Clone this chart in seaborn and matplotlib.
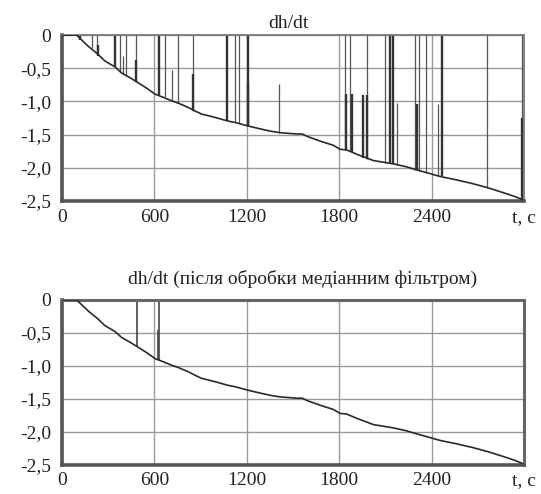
import numpy as np
import pandas as pd
import seaborn as sns
import matplotlib
matplotlib.use("Agg")
import matplotlib.pyplot as plt
from matplotlib.ticker import FixedLocator, MultipleLocator

# ---------------- data ----------------
curve_t = [0, 95, 117, 171, 229, 279, 344, 387, 440, 496, 550, 604, 660, 712, 760,
           820, 870, 907, 960, 1010, 1069, 1130, 1210, 1300, 1360, 1416, 1524, 1560,
           1596, 1680, 1762, 1805, 1848, 1920, 2022, 2100, 2151, 2230, 2303, 2380,
           2455, 2560, 2671, 2780, 2887, 2950, 2990]
curve_v = [0, 0, -0.05, -0.17, -0.28, -0.39, -0.48, -0.57, -0.64, -0.72, -0.80, -0.89,
           -0.94, -0.99, -1.03, -1.09, -1.15, -1.19, -1.22, -1.25, -1.29, -1.32, -1.37,
           -1.42, -1.45, -1.47, -1.49, -1.49, -1.53, -1.60, -1.66, -1.72, -1.73, -1.80,
           -1.89, -1.92, -1.94, -1.98, -2.03, -2.08, -2.13, -2.18, -2.24, -2.31, -2.39,
           -2.44, -2.48]

# raw signal: outliers (thin spikes)
thin_t = [197, 229, 377, 398, 413, 478, 669, 712, 751, 853, 1123, 1151, 1409, 1838,
          1870, 1983, 2097, 2173, 2292, 2318, 2364, 2444, 2758, 2989]
thin_top = [0, 0, 0, -0.32, 0, 0, 0, -0.52, 0, 0, 0, 0, -0.74, 0,
            0, 0, 0, -1.02, 0, 0, 0, -1.04, 0, 0]
thin_bot = [-0.20, -0.28, -0.55, -0.59, -0.61, -0.71, -0.94, -0.99, -1.03, -1.15, -1.31,
            -1.33, -1.47, -1.73, -1.75, -1.86, -1.92, -1.95, -2.03, -2.04, -2.07,
            -2.12, -2.30, -2.48]
# raw signal: outliers (heavy spikes)
thick_t = [120, 234, 344, 478, 632, 853, 1069, 1210, 1210, 1842, 1881, 1956, 1979,
           2130, 2152, 2303, 2465, 2989]
thick_top = [0, -0.15, 0, -0.37, 0, -0.59, 0, 0, -0.72, -0.89, -0.89, -0.91, -0.91,
             0, 0, -1.04, 0, -1.25]
thick_bot = [-0.07, -0.31, -0.48, -0.71, -0.91, -1.15, -1.29, -1.37, -1.37, -1.73,
             -1.76, -1.85, -1.86, -1.93, -1.94, -2.03, -2.13, -2.48]

# filtered signal: remaining outliers
filt_t = [485, 625, 632]
filt_top = [0, -0.45, 0]
filt_bot = [-0.72, -0.90, -0.91]

x_ticks = [0, 600, 1200, 1800, 2400, 3000]
x_labels = ["0", "600", "1200", "1800", "2400", "t, c"]
y_ticks = [0, -0.5, -1.0, -1.5, -2.0, -2.5]
y_labels = ["0", "-0,5", "-1,0", "-1,5", "-2,0", "-2,5"]
title_top = "dh/dt"
title_bottom = "dh/dt (після обробки медіанним фільтром)"

# ---------------- plotting ----------------
sns.set_style("white")
plt.rcParams["font.family"] = ["Liberation Serif", "DejaVu Serif"]

fig = plt.figure(figsize=(5.41, 4.94), dpi=100)
ax1 = fig.add_axes([0.1146, 0.593, 0.854, 0.336])
ax2 = fig.add_axes([0.1146, 0.059, 0.854, 0.334])

df = pd.DataFrame({"t": curve_t, "v": curve_v})

def style_axes(ax, title, frame_heavy, title_pad, title_x):
    ax.set_xlim(0, 3000)
    ax.set_ylim(-2.5, 0)
    ax.xaxis.set_major_locator(FixedLocator(x_ticks))
    ax.set_xticklabels(x_labels)
    ax.yaxis.set_major_locator(FixedLocator(y_ticks))
    ax.set_yticklabels(y_labels)
    ax.xaxis.set_minor_locator(MultipleLocator(300))
    ax.yaxis.set_minor_locator(MultipleLocator(0.25))
    ax.grid(True, which="major", color="#9a9a9a", linewidth=1.0)
    ax.set_axisbelow(True)
    ax.tick_params(axis="both", which="major", direction="out", length=4,
                   width=1.2, color="#555555", labelsize=14,
                   labelcolor="#222222")
    ax.tick_params(axis="x", which="major", pad=1.5)
    ax.tick_params(axis="y", which="major", pad=4)
    ax.tick_params(axis="both", which="minor", direction="in", length=3,
                   width=1.0, color="#666666")
    ax.set_xlabel("")
    ax.set_ylabel("")
    ax.set_title(title, fontsize=14, color="#222222", pad=title_pad, x=title_x)
    for side in ["left", "bottom"]:
        ax.spines[side].set_linewidth(2.6)
        ax.spines[side].set_color("#555555")
    for side in ["top", "right"]:
        ax.spines[side].set_visible(True)
        if frame_heavy:
            ax.spines[side].set_linewidth(2.2)
            ax.spines[side].set_color("#666666")
        else:
            ax.spines[side].set_linewidth(1.3)
            ax.spines[side].set_color("#7a7a7a")

# top: raw
ax1.vlines(thin_t, thin_bot, thin_top, colors="#555555", linewidth=0.9, zorder=2)
ax1.vlines(thick_t, thick_bot, thick_top, colors="#333333", linewidth=1.7, zorder=2)
sns.lineplot(data=df, x="t", y="v", ax=ax1, color="#2a2a2a", linewidth=1.2, zorder=3)
style_axes(ax1, title_top, False, 5, 0.49)

# bottom: filtered
ax2.vlines(filt_t, filt_bot, filt_top, colors="#444444", linewidth=1.2, zorder=2)
sns.lineplot(data=df, x="t", y="v", ax=ax2, color="#2a2a2a", linewidth=1.2, zorder=3)
style_axes(ax2, title_bottom, True, 11.5, 0.52)

fig.savefig("out.png", dpi=100, facecolor="white")
